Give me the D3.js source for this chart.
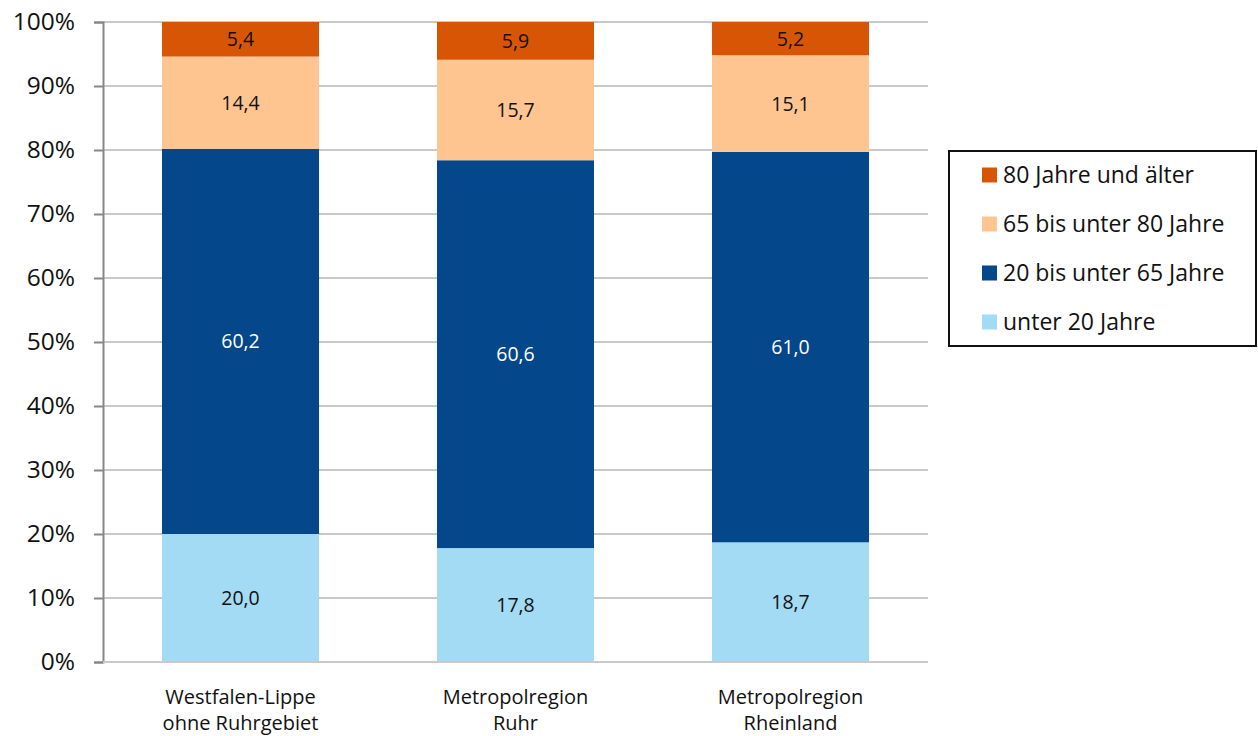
<!DOCTYPE html>
<html>
<head>
<meta charset="utf-8">
<script src="https://cdn.jsdelivr.net/npm/d3@7"></script>
<style>
  html, body { margin: 0; padding: 0; background: #fff; }
  svg { display: block; font-family: "Open Sans", "Noto Sans", sans-serif; }
</style>
</head>
<body>
<svg id="chart" width="1258" height="736"></svg>
<script>
// Regions (two-line labels)
const categories = [
  ["Westfalen-Lippe", "ohne Ruhrgebiet"],
  ["Metropolregion", "Ruhr"],
  ["Metropolregion", "Rheinland"]
];
// Age groups, bottom to top of each stack
const seriesNames = ["unter 20 Jahre", "20 bis unter 65 Jahre", "65 bis unter 80 Jahre", "80 Jahre und älter"];
const under20   = [20.0, 17.8, 18.7];
const age20to65 = [60.2, 60.6, 61.0];
const age65to80 = [14.4, 15.7, 15.1];
const age80plus = [5.4, 5.9, 5.2];
const yTicks = [0, 10, 20, 30, 40, 50, 60, 70, 80, 90, 100];

const colors = ["#a3daf4", "#04478a", "#ffc591", "#d95506"];
const labelColors = ["#111", "#fff", "#111", "#111"];

const seriesValues = [under20, age20to65, age65to80, age80plus];
const rows = categories.map((c, i) => {
  const r = { key: i };
  seriesNames.forEach((s, j) => { r[s] = seriesValues[j][i]; });
  return r;
});
const stacked = d3.stack().keys(seriesNames)(rows);

const svg = d3.select("#chart");
const plot = { left: 103, right: 928, top: 22, bottom: 662 };

const x = d3.scaleBand()
  .domain(categories.map((c, i) => i))
  .range([plot.left, plot.right])
  .paddingInner(0.429)
  .paddingOuter(0.2145);
const y = d3.scaleLinear().domain([0, 100]).range([plot.bottom, plot.top]);

// Horizontal gridlines
svg.append("g")
  .selectAll("line")
  .data(yTicks)
  .join("line")
  .attr("x1", plot.left).attr("x2", plot.right)
  .attr("y1", d => y(d)).attr("y2", d => y(d))
  .attr("stroke", "#c9c9c9").attr("stroke-width", 2);

// Stacked bars
const layer = svg.append("g")
  .selectAll("g")
  .data(stacked)
  .join("g")
  .attr("fill", (d, i) => colors[i]);

layer.selectAll("rect")
  .data(d => d)
  .join("rect")
  .attr("x", d => x(d.data.key))
  .attr("width", x.bandwidth())
  .attr("y", d => y(d[1]))
  .attr("height", d => y(d[0]) - y(d[1]));

// Value labels inside segments
stacked.forEach((s, i) => {
  svg.append("g")
    .selectAll("text")
    .data(s)
    .join("text")
    .attr("x", d => x(d.data.key) + x.bandwidth() / 2)
    .attr("y", d => (y(d[0]) + y(d[1])) / 2)
    .attr("dy", "0.36em")
    .attr("text-anchor", "middle")
    .attr("font-size", 19.5)
    .attr("fill", labelColors[i])
    .text(d => d3.format(".1f")(d[1] - d[0]).replace(".", ","));
});

// Y axis
const yAxis = svg.append("g")
  .attr("transform", `translate(${plot.left},0)`)
  .call(d3.axisLeft(y).tickValues(yTicks).tickSize(9).tickPadding(19).tickFormat(d => d + "%"));
yAxis.select(".domain").attr("stroke", "#878787").attr("stroke-width", 2);
yAxis.selectAll(".tick line").attr("stroke", "#878787").attr("stroke-width", 2);
yAxis.selectAll(".tick text")
  .attr("font-size", 24.5)
  .attr("fill", "#111")
  .attr("font-family", "'Open Sans', sans-serif");

// X axis line
svg.append("line")
  .attr("x1", plot.left).attr("x2", plot.right)
  .attr("y1", plot.bottom).attr("y2", plot.bottom)
  .attr("stroke", "#c9c9c9").attr("stroke-width", 2);

// Category labels, one text element per line
const catLines = categories.flatMap((lines, i) => lines.map((t, k) => ({ i, k, t })));
svg.append("g")
  .selectAll("text")
  .data(catLines)
  .join("text")
  .attr("x", d => x(d.i) + x.bandwidth() / 2)
  .attr("y", d => 703.5 + d.k * 26)
  .attr("text-anchor", "middle")
  .attr("font-size", 20)
  .attr("fill", "#111")
  .text(d => d.t);

// Legend
const legend = svg.append("g");
legend.append("rect")
  .attr("x", 949).attr("y", 151)
  .attr("width", 307).attr("height", 195)
  .attr("fill", "#fff").attr("stroke", "#111").attr("stroke-width", 2);

const legendOrder = seriesNames.map((s, i) => i).reverse();
const legendRows = legend.selectAll("g.item")
  .data(legendOrder)
  .join("g")
  .attr("class", "item")
  .attr("transform", (d, k) => `translate(982,${175 + k * 49})`);
legendRows.append("rect")
  .attr("x", 0).attr("y", -7.5)
  .attr("width", 15).attr("height", 15)
  .attr("fill", d => colors[d]);
legendRows.append("text")
  .attr("x", 21).attr("y", 0)
  .attr("dy", "0.36em")
  .attr("font-size", 23)
  .attr("fill", "#111")
  .text(d => seriesNames[d]);
</script>
</body>
</html>
